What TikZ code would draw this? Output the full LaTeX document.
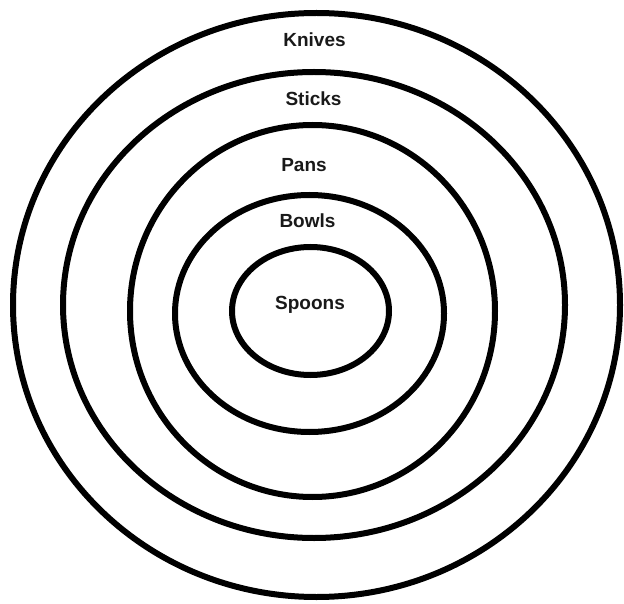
\documentclass[tikz,border=0pt]{standalone}
\usepackage{fontspec}
\setmainfont{Liberation Sans}
\usetikzlibrary{positioning, shapes.geometric}

\begin{document}
\begin{tikzpicture}[
    x=1pt, y=-1pt,
    every node/.style={font=\bfseries\fontsize{19}{19}\selectfont},
    ring/.style={ellipse, draw=black, line width=6pt, inner sep=0pt},
    lbl/.style={text=black!90, inner sep=1pt},
]
\useasboundingbox (0,0) rectangle (624,604);

% Rings, outer to inner
\node[ring, minimum width=607pt, minimum height=584pt] (knivesring) at (316.5,305) {};
\node[ring, minimum width=502pt, minimum height=466pt] (sticksring) at (314,305) {};
\node[ring, minimum width=365pt, minimum height=372pt] (pansring) at (312.5,311) {};
\node[ring, minimum width=269pt, minimum height=237pt] (bowlsring) at (309.5,313.5) {};
\node[ring, minimum width=157pt, minimum height=128pt] (spoonsring) at (310.5,311) {};

% Labels
\node[lbl] (knives) at (314.5,40) {Knives};
\node[lbl] (sticks) at (313.5,99) {Sticks};
\node[lbl] (pans) at (304,165) {Pans};
\node[lbl] (bowls) at (307.5,221) {Bowls};
\node[lbl] (spoons) at (310,305) {Spoons};

\end{tikzpicture}
\end{document}
